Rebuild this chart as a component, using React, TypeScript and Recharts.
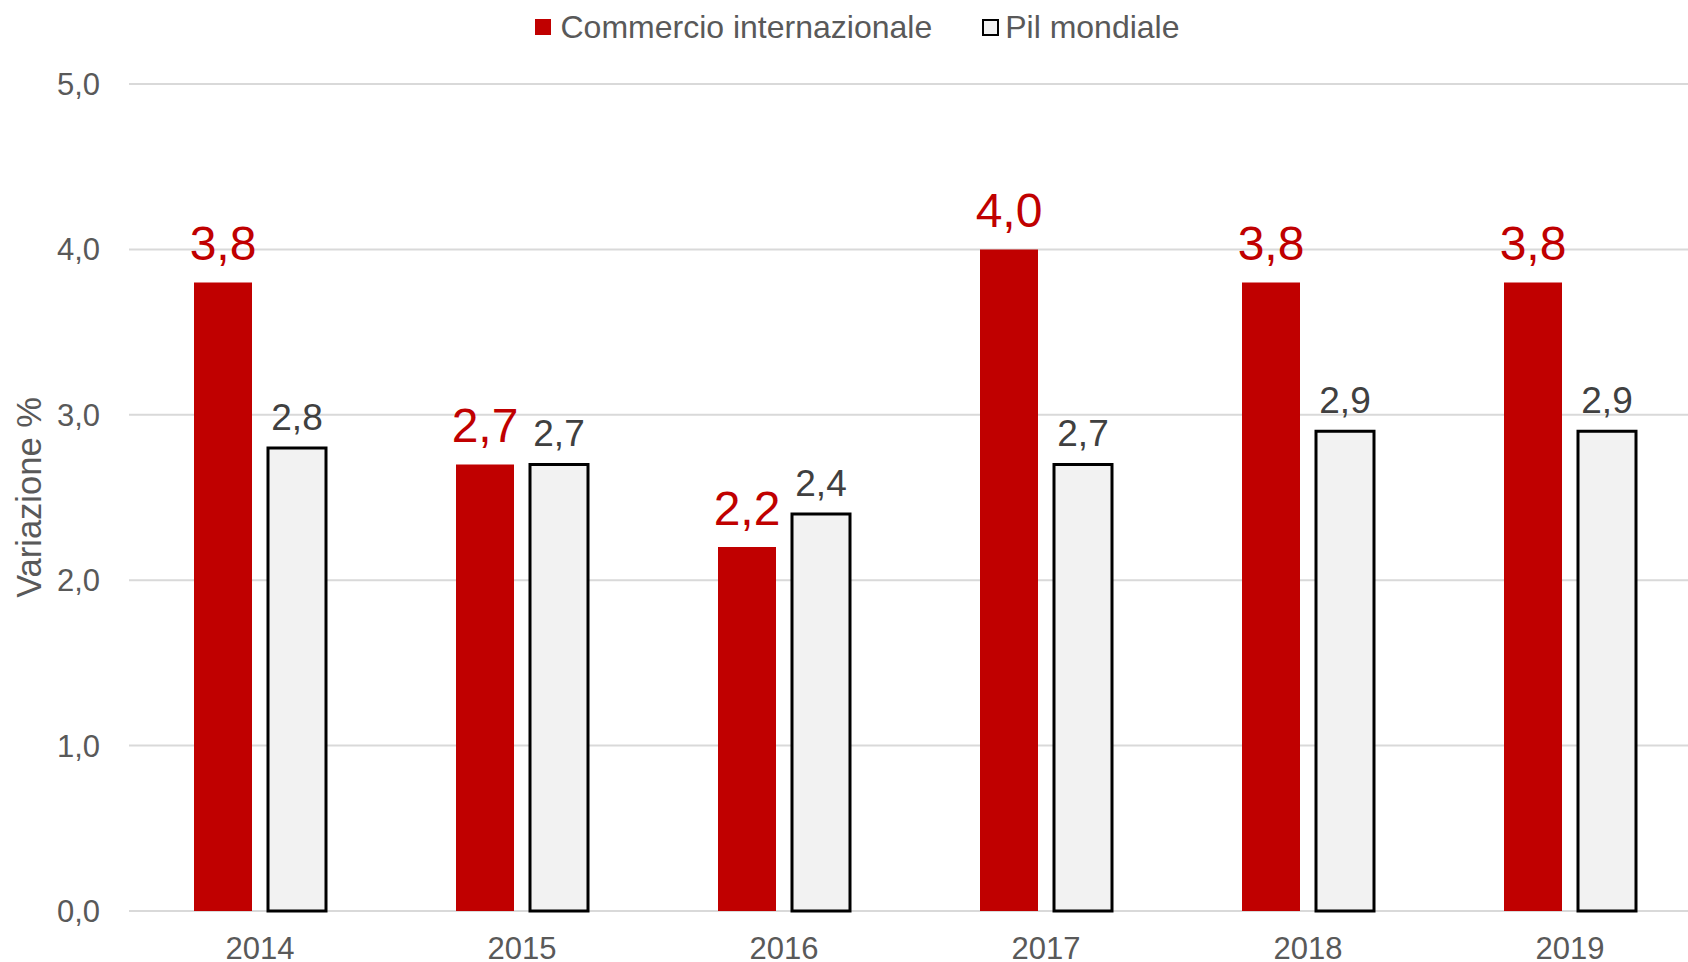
import { BarChart, Bar, XAxis, YAxis, CartesianGrid, Legend, LabelList, Label } from 'recharts'

const YEARS = ['2014', '2015', '2016', '2017', '2018', '2019']
const COMMERCIO = [3.8, 2.7, 2.2, 4.0, 3.8, 3.8]
const PIL = [2.8, 2.7, 2.4, 2.7, 2.9, 2.9]
const Y_TICKS = [0, 1, 2, 3, 4, 5]

const RED = '#C00000'
const FONT = '"Liberation Sans", Arial, sans-serif'

const data = YEARS.map((year, i) => ({ year, commercio: COMMERCIO[i], pil: PIL[i] }))

const fmt = (v: any) => Number(v).toFixed(1).replace('.', ',')

function LegendBox() {
  return (
    <div
      style={{
        display: 'flex',
        alignItems: 'center',
        justifyContent: 'center',
        height: 40,
        paddingLeft: 14,
        fontFamily: FONT,
        fontSize: 32,
        color: '#595959',
      }}
    >
      <span style={{ width: 16, height: 16, background: RED, marginRight: 9 }} />
      <span style={{ marginRight: 50 }}>Commercio internazionale</span>
      <span
        style={{
          width: 13,
          height: 13,
          background: '#F2F2F2',
          border: '2.5px solid #000',
          marginRight: 6,
        }}
      />
      <span>Pil mondiale</span>
    </div>
  )
}

function YLabel(props: any) {
  const { x, y, height } = props.viewBox
  const cx = x + 29
  const cy = y + height / 2
  return (
    <text
      x={cx}
      y={cy}
      transform={`rotate(-90 ${cx} ${cy})`}
      textAnchor="middle"
      dominantBaseline="central"
      fontFamily={FONT}
      fontSize={34.5}
      fill="#595959"
    >
      Variazione %
    </text>
  )
}

export default function App() {
  return (
    <div
      style={{
        position: 'absolute',
        left: 0,
        top: 0,
        width: 1688,
        height: 962,
        overflow: 'hidden',
        background: '#fff',
      }}
    >
      <BarChart
        width={1701}
        height={962}
        data={data}
        margin={{ top: 44, right: 0, bottom: 0, left: 0 }}
        barSize={58}
        barGap={16}
      >
        <CartesianGrid vertical={false} stroke="#D9D9D9" strokeWidth={2} />
        <XAxis
          dataKey="year"
          axisLine={false}
          tickLine={false}
          tickSize={0}
          tickMargin={26}
          height={51}
          tick={{ fill: '#595959', fontSize: 31, fontFamily: FONT }}
        />
        <YAxis
          domain={[0, 5]}
          ticks={Y_TICKS}
          width={129}
          axisLine={false}
          tickLine={false}
          tickSize={0}
          tickMargin={29}
          tickFormatter={fmt}
          tick={{ fill: '#595959', fontSize: 31, fontFamily: FONT }}
        >
          <Label content={YLabel} />
        </YAxis>
        <Legend
          verticalAlign="top"
          content={LegendBox}
          wrapperStyle={{ top: 7, left: 0, width: 1701 }}
        />
        <Bar dataKey="commercio" fill={RED} isAnimationActive={false}>
          <LabelList
            dataKey="commercio"
            position="top"
            offset={22}
            formatter={fmt}
            fill={RED}
            fontSize={48}
            fontFamily={FONT}
          />
        </Bar>
        <Bar dataKey="pil" fill="#F2F2F2" stroke="#000" strokeWidth={3} isAnimationActive={false}>
          <LabelList
            dataKey="pil"
            position="top"
            offset={18}
            formatter={fmt}
            fill="#404040"
            fontSize={37}
            fontFamily={FONT}
          />
        </Bar>
      </BarChart>
    </div>
  )
}
